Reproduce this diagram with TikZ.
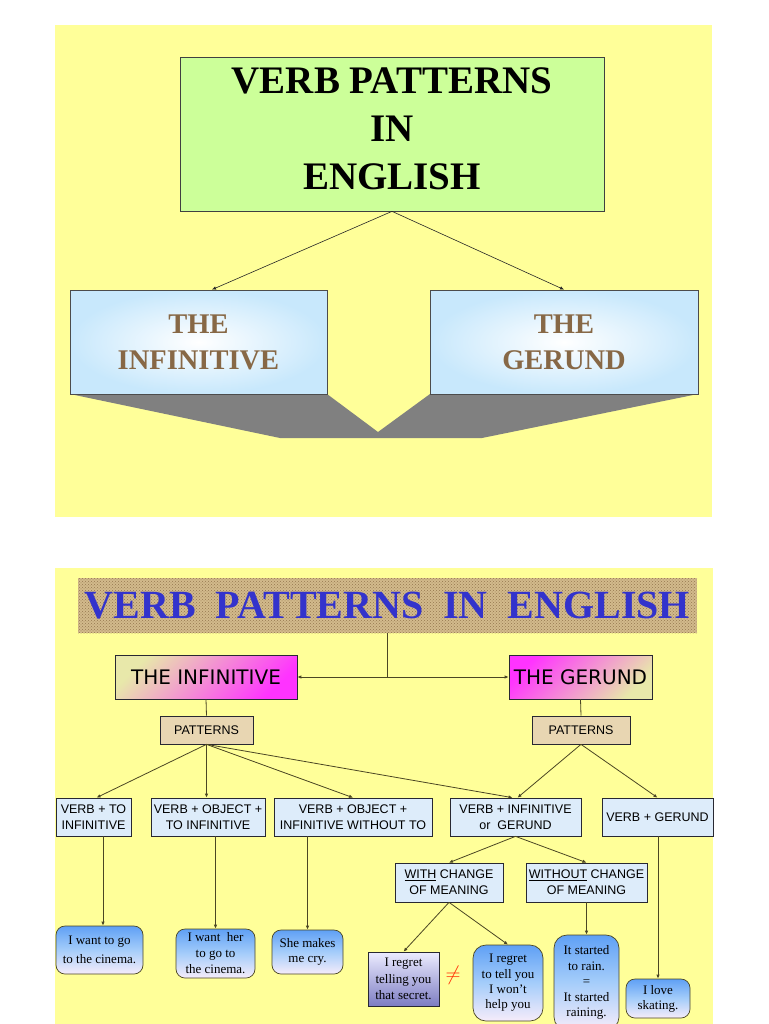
\documentclass[tikz,border=0pt]{standalone}
\usepackage{fontspec}
\setmainfont{Liberation Serif}
\newfontfamily\arialf{Liberation Sans}
\newfontfamily\comicf{DejaVu Sans}
\usetikzlibrary{arrows.meta,patterns,shadings}
\definecolor{panelY}{RGB}{255,255,153}
\definecolor{titleG}{RGB}{204,255,153}
\definecolor{edgeBlue}{RGB}{200,232,252}
\definecolor{brownT}{RGB}{135,104,70}
\definecolor{shadowG}{RGB}{128,128,128}
\definecolor{bannerBase}{RGB}{210,186,140}
\definecolor{bannerDark}{RGB}{150,120,78}
\definecolor{bannerBlue}{RGB}{51,51,204}
\definecolor{magentaC}{RGB}{255,51,255}
\definecolor{paleC}{RGB}{232,232,170}
\definecolor{tanC}{RGB}{232,214,178}
\definecolor{l3Blue}{RGB}{221,236,250}
\definecolor{boxBorder}{RGB}{40,40,50}
\definecolor{lineC}{RGB}{75,70,35}
\definecolor{exTop}{RGB}{95,160,245}
\definecolor{exMid}{RGB}{165,205,250}
\definecolor{exBot}{RGB}{246,236,250}
\definecolor{rgTop}{RGB}{236,236,255}
\definecolor{rgBot}{RGB}{125,125,195}
\definecolor{neqRed}{RGB}{255,40,0}
\tikzset{
  panel/.style={fill=panelY},
  titlebox/.style={draw=black!75, line width=0.7pt, fill=titleG, inner sep=0pt},
  titletext/.style={font=\bfseries\fontsize{39}{48}\selectfont, align=center, inner sep=0pt},
  bluebox/.style={draw=black!70, line width=0.8pt, inner color=white, outer color=edgeBlue,
    text=brownT, font=\bfseries\fontsize{28.5}{36}\selectfont, align=center, inner sep=0pt},
  arrA/.style={draw=black!85, line width=0.6pt, -{Latex[length=4pt,width=3.5pt]}},
  banner/.style={fill=bannerBase, postaction={pattern=crosshatch dots, pattern color=bannerDark},
    text=bannerBlue, font=\bfseries\fontsize{40}{44}\selectfont, inner sep=0pt},
  magL/.style={draw=boxBorder, line width=0.7pt, top color=paleC, bottom color=magentaC, shading angle=45,
    font=\comicf\fontsize{20}{24}\selectfont, inner sep=0pt},
  magR/.style={draw=boxBorder, line width=0.7pt, top color=magentaC, bottom color=paleC, shading angle=45,
    font=\comicf\fontsize{20}{24}\selectfont, inner sep=0pt},
  patbox/.style={draw=boxBorder, line width=0.7pt, fill=tanC, font=\arialf\fontsize{12.5}{15}\selectfont, inner sep=0pt},
  lthree/.style={draw=boxBorder, line width=0.7pt, fill=l3Blue, font=\arialf\fontsize{12.5}{16}\selectfont,
    align=center, inner sep=0pt},
  exbox/.style={draw=lineC, line width=0.7pt, rounded corners=9pt, top color=exTop, bottom color=exBot,
    middle color=exMid, align=center, inner sep=0pt},
  rgbox/.style={draw=boxBorder, line width=0.7pt, top color=rgTop, bottom color=rgBot, align=center, inner sep=0pt},
  plainline/.style={draw=lineC, line width=0.8pt},
  arrB/.style={draw=lineC, line width=0.8pt, -{Latex[length=4pt,width=3.5pt]}},
}
\begin{document}
\begin{tikzpicture}[x=1pt,y=-1pt]
\useasboundingbox (0,0) rectangle (768,1024);
\fill[white] (0,0) rectangle (768,1024);

% ---------- panel 1 ----------
\fill[panel] (55,25) rectangle (712,517);
\fill[shadowG] (70,394) -- (327,394) -- (378,432) -- (430,394) -- (698,394) -- (482,438) -- (280,438) -- cycle;
\node[titlebox, minimum width=424pt, minimum height=154pt] (title) at (392,134) {};
\node[titletext] (titletxt) at (392,129) {VERB PATTERNS\\IN\\ENGLISH};
\node[bluebox, minimum width=257pt, minimum height=104pt] (inf) at (198.5,342) {THE\\INFINITIVE};
\node[bluebox, minimum width=268pt, minimum height=104pt] (ger) at (564,342) {THE\\GERUND};
\draw[arrA] (title.south) -- ([xshift=13.5pt]inf.north);
\draw[arrA] (title.south) -- (ger.north);

% ---------- panel 2 ----------
\fill[panel] (55,568) rectangle (713,1024);
\node[banner, minimum width=619pt, minimum height=55pt] (banner) at (387.5,605.5) {VERB\ \ PATTERNS\ \ IN\ \ ENGLISH};
\node[magL, minimum width=182pt, minimum height=44pt] (inf2) at (206,677) {THE INFINITIVE};
\node[magR, minimum width=143pt, minimum height=44pt] (ger2) at (580.5,677) {THE GERUND};
\coordinate (jn) at (banner.south |- inf2.east);
\draw[plainline] (banner.south) -- (jn);
\draw[arrB] (jn) -- (inf2.east);
\draw[arrB] (jn) -- (ger2.west);

\node[patbox, minimum width=93pt, minimum height=28pt] (pat1) at (206.5,730) {PATTERNS};
\node[patbox, minimum width=98pt, minimum height=28pt] (pat2) at (581,730) {PATTERNS};
\draw[plainline] (inf2.south) -- (pat1.north);
\draw[plainline] (ger2.south) -- (pat2.north);

\node[lthree, minimum width=75pt, minimum height=38pt] (b1) at (93.5,817) {VERB + TO\\INFINITIVE};
\node[lthree, minimum width=114pt, minimum height=38pt] (b2) at (208,817) {VERB + OBJECT +\\TO INFINITIVE};
\node[lthree, minimum width=158pt, minimum height=38pt] (b3) at (353,817) {VERB + OBJECT +\\INFINITIVE WITHOUT TO};
\node[lthree, minimum width=131pt, minimum height=38pt] (b4) at (515.5,817) {VERB + INFINITIVE\\or\ \ GERUND};
\node[lthree, minimum width=111pt, minimum height=38pt] (b5) at (657.5,817) {VERB + GERUND};

\draw[arrB] (pat1.south) -- ([xshift=3pt]b1.north);
\draw[arrB] (pat1.south) -- (pat1.south |- b2.north);
\draw[arrB] (pat1.south) -- (b3.north);
\draw[arrB] (pat1.south) -- ([xshift=-3pt]b4.north);
\draw[arrB] (pat2.south) -- ([xshift=2pt]b4.north);
\draw[arrB] (pat2.south) -- (b5.north);

\node[lthree, minimum width=108pt, minimum height=39pt] (with) at (449,882.5) {\underline{WITH} CHANGE\\OF MEANING};
\node[lthree, minimum width=121pt, minimum height=39pt] (without) at (586.5,882.5) {\underline{WITHOUT} CHANGE\\OF MEANING};
\draw[arrB] (b4.south) -- (with.north);
\draw[arrB] (b4.south) -- (without.north);

% examples
\node[exbox, minimum width=87pt, minimum height=48pt, font=\fontsize{13}{19}\selectfont] (ex1) at (99.5,950) {I want to go\\to the cinema.};
\node[exbox, minimum width=79pt, minimum height=49pt, font=\fontsize{13}{16}\selectfont] (ex2) at (215.5,953.5) {I want\ \ her\\to go to\\the cinema.};
\node[exbox, minimum width=71pt, minimum height=44pt, font=\fontsize{13}{15}\selectfont] (ex3) at (307.5,952) {She makes\\me cry.};
\draw[arrB] ([xshift=3.5pt]ex1.north |- b1.south) -- ([xshift=3.5pt]ex1.north);
\draw[arrB] (ex2.north |- b2.south) -- (ex2.north);
\draw[arrB] (ex3.north |- b3.south) -- (ex3.north);

\node[rgbox, minimum width=71pt, minimum height=54pt, font=\fontsize{13}{16.5}\selectfont] (rg1) at (403.5,979) {I regret\\telling you\\that secret.};
\node[text=neqRed, font=\fontsize{22}{22}\selectfont, inner sep=0pt] (neq) at (453,975) {$\neq$};
\node[exbox, rounded corners=13pt, minimum width=70pt, minimum height=76pt, font=\fontsize{13}{15.3}\selectfont] (rg2) at (508,983) {I regret\\to tell you\\I won't\\help you};
\node[exbox, rounded corners=13pt, minimum width=65pt, minimum height=95pt, font=\fontsize{13}{15.5}\selectfont] (rain) at (586.5,982.5) {It started\\to rain.\\=\\It started\\raining.};
\node[exbox, minimum width=64pt, minimum height=39pt, font=\fontsize{13}{15}\selectfont] (love) at (658,998.5) {I love\\skating.};
\draw[arrB] (with.south) -- (rg1.north);
\draw[arrB] (with.south) -- (rg2.north);
\draw[arrB] (without.south) -- (rain.north);
\draw[arrB] (love.north |- b5.south) -- (love.north);
\end{tikzpicture}
\end{document}
